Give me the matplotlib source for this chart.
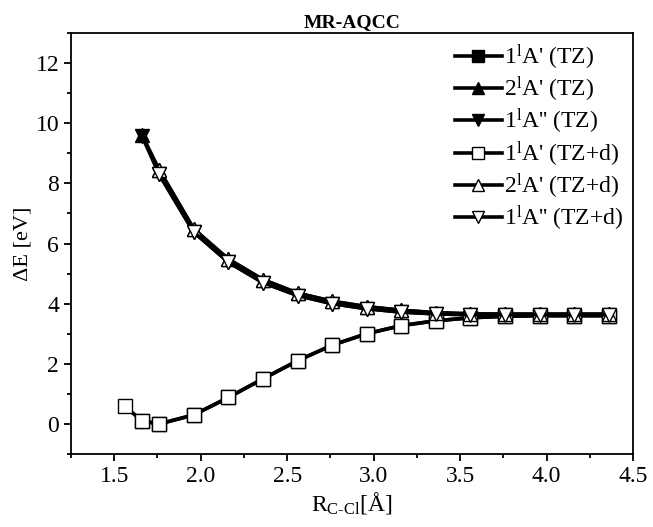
import numpy as np
import matplotlib
matplotlib.use('Agg')
import matplotlib.pyplot as plt
from matplotlib.ticker import MultipleLocator

plt.rcParams['font.family'] = ['Liberation Serif', 'DejaVu Serif']
plt.rcParams['mathtext.fontset'] = 'custom'
plt.rcParams['mathtext.rm'] = 'Liberation Serif'
plt.rcParams['mathtext.it'] = 'Liberation Serif:italic'

# ── Data (C-Cl distance in Angstrom, excitation energy in eV) ─────────────────
r_d = [1.56, 1.66, 1.76, 1.96, 2.16, 2.36, 2.56, 2.76, 2.96, 3.16, 3.36,
       3.56, 3.76, 3.96, 4.16, 4.36]
e_11a_d = [0.60, 0.10, 0.00, 0.30, 0.88, 1.50, 2.10, 2.62, 3.00, 3.27, 3.43,
           3.53, 3.58, 3.60, 3.60, 3.60]

r_up_d = [1.76, 1.96, 2.16, 2.36, 2.56, 2.76, 2.96, 3.16, 3.36, 3.56, 3.76,
          3.96, 4.16, 4.36]
e_21a_d = [8.45, 6.48, 5.48, 4.80, 4.35, 4.08, 3.90, 3.78, 3.70, 3.66, 3.65,
           3.65, 3.65, 3.65]
e_11app_d = [8.30, 6.38, 5.38, 4.70, 4.27, 4.00, 3.83, 3.72, 3.66, 3.63, 3.63,
             3.63, 3.63, 3.63]

# TZ results (mostly hidden under the TZ+d markers)
r_tz = [1.66, 1.76, 1.96, 2.16, 2.36, 2.56, 2.76, 2.96, 3.16, 3.36, 3.56,
        3.76, 3.96, 4.16, 4.36]
e_11a_tz = [0.10, 0.00, 0.30, 0.88, 1.50, 2.10, 2.62, 3.00, 3.27, 3.43, 3.53,
            3.58, 3.60, 3.60, 3.60]
e_21a_tz = [9.62, 8.45, 6.48, 5.48, 4.80, 4.35, 4.08, 3.90, 3.78, 3.70, 3.66,
            3.65, 3.65, 3.65, 3.65]
e_11app_tz = [9.58, 8.30, 6.38, 5.38, 4.70, 4.27, 4.00, 3.83, 3.72, 3.66, 3.63,
              3.63, 3.63, 3.63, 3.63]

labels = ["1$^{\\rm l}$A' (TZ)", "2$^{\\rm l}$A' (TZ)", "1$^{\\rm l}$A'' (TZ)",
          "1$^{\\rm l}$A' (TZ+d)", "2$^{\\rm l}$A' (TZ+d)", "1$^{\\rm l}$A'' (TZ+d)"]

# ── Figure ────────────────────────────────────────────────────────────────────
fig = plt.figure(figsize=(6.53, 5.27), dpi=100)
ax = fig.add_axes([0.1087, 0.1385, 0.9694 - 0.1087, 0.9374 - 0.1385])

lw = 2.6
ms = 10
kw = dict(color='black', linewidth=lw, markersize=ms, markeredgewidth=1.0)

ax.plot(r_tz, e_11a_tz, marker='s', markerfacecolor='black', label=labels[0], **kw)
ax.plot(r_tz, e_21a_tz, marker='^', markerfacecolor='black', label=labels[1], **kw)
ax.plot(r_tz, e_11app_tz, marker='v', markerfacecolor='black', label=labels[2], **kw)
ax.plot(r_d, e_11a_d, marker='s', markerfacecolor='white', label=labels[3], **kw)
ax.plot(r_up_d, e_21a_d, marker='^', markerfacecolor='white', label=labels[4], **kw)
ax.plot(r_up_d, e_11app_d, marker='v', markerfacecolor='white', label=labels[5], **kw)

ax.set_xlim(1.25, 4.5)
ax.set_ylim(-1, 13)
ax.xaxis.set_major_locator(MultipleLocator(0.5))
ax.xaxis.set_minor_locator(MultipleLocator(0.25))
ax.yaxis.set_major_locator(MultipleLocator(2))
ax.yaxis.set_minor_locator(MultipleLocator(1))
ax.tick_params(which='both', direction='out', top=False, right=False,
               labelsize=17, width=1.3)
ax.tick_params(which='major', length=5)
ax.tick_params(which='minor', length=3)
for s in ax.spines.values():
    s.set_linewidth(1.3)

ax.set_xlabel('R$_{\\rm C\\text{-}Cl}$[Å]', fontsize=17, labelpad=2)
ax.set_ylabel('ΔE [eV]', fontsize=16, labelpad=2)
ax.set_title('MR-AQCC', fontsize=14, fontweight='bold', pad=4)

ax.legend(loc='upper right', bbox_to_anchor=(1.0, 1.0), frameon=False,
          fontsize=17, handlelength=2.0, handletextpad=0.1, labelspacing=0.12,
          borderaxespad=0.1, borderpad=0.3, markerscale=0.8)

fig.savefig('out.png', dpi=100)
